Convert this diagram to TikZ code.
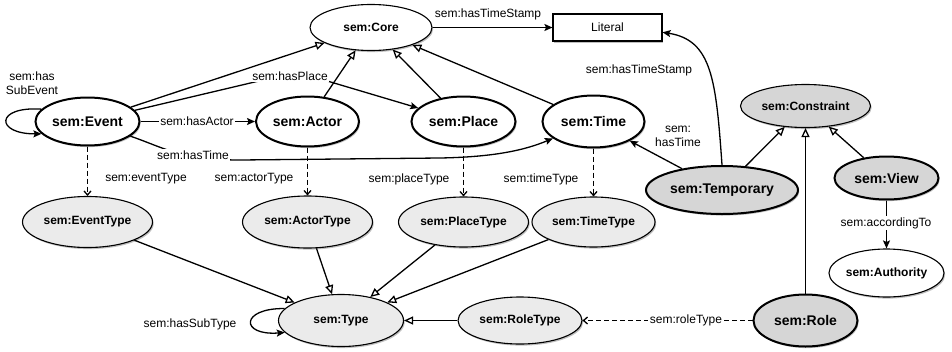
\documentclass[tikz,border=0pt]{standalone}
\usepackage{fontspec}
\setmainfont{Liberation Sans}
\usetikzlibrary{shapes.geometric,arrows.meta,shadows}
\definecolor{lightfill}{HTML}{EBEBEB}
\definecolor{darkfill}{HTML}{D6D6D6}
\begin{document}
\begin{tikzpicture}[x=1pt,y=-1pt,
  every node/.style={font=\fontsize{12}{14}\selectfont},
  shd/.style={drop shadow={shadow xshift=1.2pt,shadow yshift=-1.6pt,opacity=0.25,fill=black}},
  base/.style={ellipse,draw,inner sep=0pt,line width=1.1pt,shd},
  mainn/.style={base,fill=white,line width=2pt,font=\fontsize{14}{16}\selectfont\bfseries},
  plainn/.style={base,fill=white,font=\fontsize{12}{14}\selectfont\bfseries},
  typen/.style={base,fill=lightfill,font=\fontsize{12}{14}\selectfont\bfseries},
  darkn/.style={base,fill=darkfill,line width=2pt,font=\fontsize{14}{16}\selectfont\bfseries},
  darkthin/.style={base,fill=darkfill,font=\fontsize{12}{14}\selectfont\bfseries},
  rel/.style={draw,line width=1.3pt,-{Stealth[length=8pt,width=7pt,inset=1.5pt]}},
  sub/.style={draw,line width=1.3pt,-{Triangle[open,length=9pt,width=8pt,fill=white]}},
  typ/.style={draw,line width=1.3pt,dash pattern=on 5pt off 3pt,-{Straight Barb[length=4pt,width=7pt]}},
  lbl/.style={fill=white,inner sep=1.5pt}
]
\useasboundingbox (0,0) rectangle (952,351);

% nodes
\node[plainn,minimum width=122pt,minimum height=46pt] (co) at (371,27.5) {sem:Core};
\node[draw,line width=1.1pt,fill=white,shd,minimum width=109pt,minimum height=27pt,inner sep=0pt] (li) at (607.5,27.5) {Literal};
\node[mainn,minimum width=104pt,minimum height=48pt] (ev) at (87.5,121.5) {sem:Event};
\node[mainn,minimum width=103pt,minimum height=50pt] (ac) at (307.5,121.5) {sem:Actor};
\node[mainn,minimum width=104pt,minimum height=50pt] (pl) at (463.5,121.5) {sem:Place};
\node[mainn,minimum width=102pt,minimum height=52pt] (tm) at (593.5,121.5) {sem:Time};
\node[typen,minimum width=130pt,minimum height=51pt] (et) at (87.5,222) {sem:EventType};
\node[typen,minimum width=130pt,minimum height=52pt] (at) at (307.5,222) {sem:ActorType};
\node[typen,minimum width=130pt,minimum height=50pt] (pt) at (463.5,222) {sem:PlaceType};
\node[typen,minimum width=123pt,minimum height=50pt] (tt) at (593.5,222) {sem:TimeType};
\node[typen,minimum width=125pt,minimum height=52pt] (ty) at (341,320.5) {sem:Type};
\node[typen,minimum width=124pt,minimum height=47pt] (rt) at (520,320.5) {sem:RoleType};
\node[darkn,minimum width=104pt,minimum height=52pt] (ro) at (805.5,320.5) {sem:Role};
\node[darkn,minimum width=152pt,minimum height=48pt] (tp) at (722,190) {sem:Temporary};
\node[darkthin,minimum width=130pt,minimum height=43pt] (cn) at (805.5,106) {sem:Constraint};
\node[darkn,minimum width=104pt,minimum height=43pt] (vw) at (886.5,178) {sem:View};
\node[plainn,minimum width=114pt,minimum height=48pt] (au) at (886.5,273) {sem:Authority};

% subclass edges
\draw[sub] (ev) -- (co);
\draw[sub] (ac) -- (co);
\draw[sub] (pl) -- (co);
\draw[sub] (tm) -- (co);
\draw[sub] (et) -- (ty);
\draw[sub] (at) -- (ty);
\draw[sub] (pt) -- (ty);
\draw[sub] (tt) -- (ty);
\draw[sub] (rt) -- (ty);
\draw[sub] (tp) -- (cn);
\draw[sub] (vw) -- (cn);
\draw[sub] (ro) -- (cn);

% relations
\draw[rel] (co) -- (li);
\node (lts1) at (488,14) {sem:hasTimeStamp};

\draw[rel] (ev) -- (ac);
\node[lbl] (lha) at (197,121.5) {sem:hasActor};

\coordinate (hpc) at (297,72);
\draw[rel] (ev) -- (hpc) -- (pl);
\node[lbl] (lhp) at (290,76) {sem:hasPlace};

\draw[rel] (ev) .. controls (165,148) and (180,160) .. (240,160) -- (440,158) .. controls (495,157) and (525,150) .. (tm);
\node[lbl] (lht) at (193,155) {sem:hasTime};

\draw[rel] (ev.165) .. controls (-5,106) and (-5,134) .. (ev.195);
\node[align=center] (lse) at (32,83) {sem:has\\SubEvent};

\draw[rel] (ty.168) .. controls (240,308) and (240,336) .. (ty.192);
\node (lst) at (190,324) {sem:hasSubType};

\draw[rel] (tp) -- (tm);
\node[align=center] (lth) at (678,136) {sem:\\hasTime};

\draw[rel] (tp.north) .. controls (716,80) and (712,40) .. (li.-5);
\node (lts2) at (639,70) {sem:hasTimeStamp};

\draw[rel] (vw) -- (au);
\node[lbl] (lat) at (886,223) {sem:accordingTo};

% type edges (dashed)
\draw[typ] (ev) -- (et);
\node (let) at (146,179) {sem:eventType};
\draw[typ] (ac) -- (at);
\node (lat2) at (254,179) {sem:actorType};
\draw[typ] (pl) -- (pt);
\node (lpt) at (409,179) {sem:placeType};
\draw[typ] (tm) -- (tt);
\node (ltt) at (541,179) {sem:timeType};
\draw[typ] (ro) -- (rt);
\node[lbl] (lrt) at (686,320.5) {sem:roleType};
\end{tikzpicture}
\end{document}
